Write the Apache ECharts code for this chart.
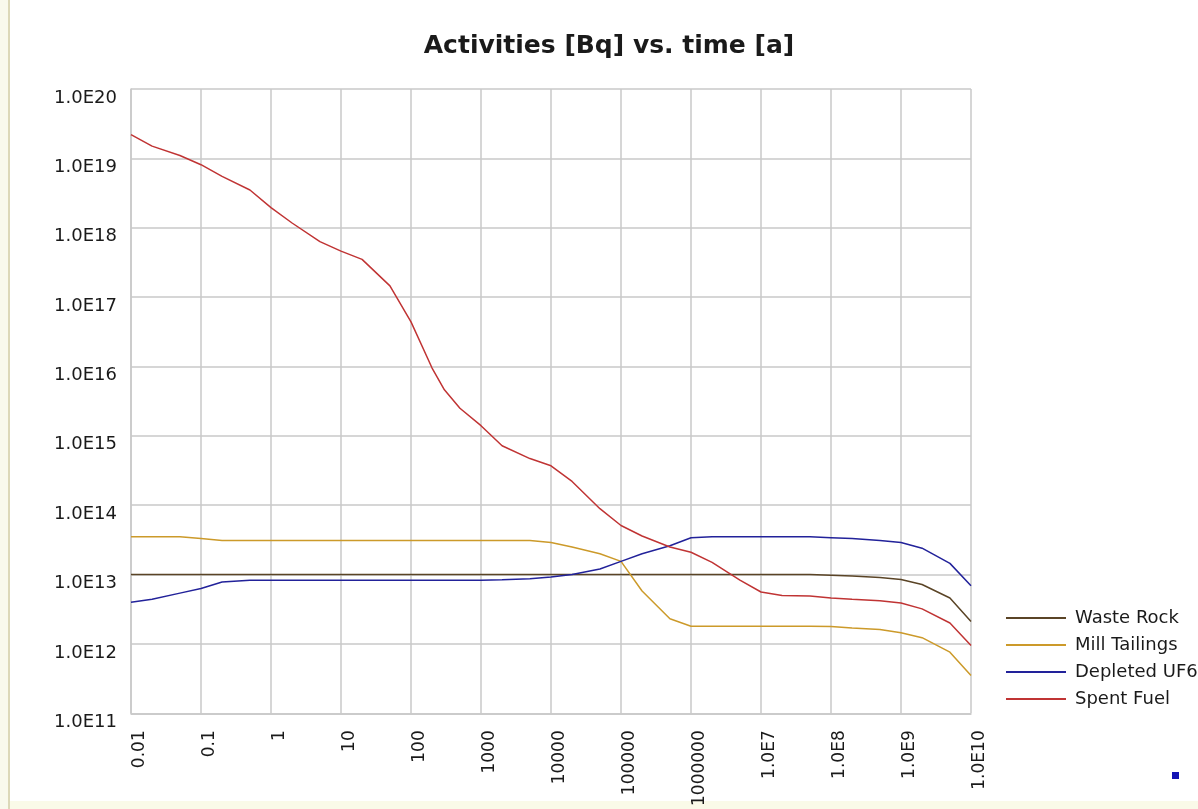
<!DOCTYPE html>
<html>
<head>
<meta charset="utf-8">
<script src="https://cdn.jsdelivr.net/npm/echarts@6/dist/echarts.min.js"></script>
<style>
  html, body { margin: 0; padding: 0; background: #ffffff; }
  #chart { width: 1198px; height: 809px; }
</style>
</head>
<body>
<div id="chart"></div>
<script>
// Time points [a]
const times = [0.01, 0.02, 0.05, 0.1, 0.2, 0.5, 1, 2, 5, 10, 20, 50, 100, 200, 300, 500,
  1e3, 2e3, 5e3, 1e4, 2e4, 5e4, 1e5, 2e5, 5e5, 1e6, 2e6, 5e6, 1e7, 2e7, 5e7,
  1e8, 2e8, 5e8, 1e9, 2e9, 5e9, 1e10];

// Activities [Bq]
const wasteRock = [1e13, 1e13, 1e13, 1e13, 1e13, 1e13, 1e13, 1e13, 1e13, 1e13, 1e13, 1e13, 1e13, 1e13, 1e13, 1e13,
  1e13, 1e13, 1e13, 1e13, 1e13, 1e13, 1e13, 1e13, 1e13, 1e13, 1e13, 1e13, 1e13, 1e13, 1e13,
  9.8e12, 9.5e12, 9.1e12, 8.5e12, 7.2e12, 4.6e12, 2.1e12];

const millTailings = [3.5e13, 3.5e13, 3.5e13, 3.3e13, 3.1e13, 3.1e13, 3.1e13, 3.1e13, 3.1e13, 3.1e13, 3.1e13, 3.1e13, 3.1e13, 3.1e13, 3.1e13, 3.1e13,
  3.1e13, 3.1e13, 3.1e13, 2.9e13, 2.5e13, 2.0e13, 1.55e13, 5.8e12, 2.3e12, 1.8e12, 1.8e12, 1.8e12, 1.8e12, 1.8e12, 1.8e12,
  1.78e12, 1.7e12, 1.62e12, 1.45e12, 1.23e12, 7.6e11, 3.5e11];

const depletedUF6 = [4.0e12, 4.4e12, 5.4e12, 6.3e12, 7.8e12, 8.3e12, 8.3e12, 8.3e12, 8.3e12, 8.3e12, 8.3e12, 8.3e12, 8.3e12, 8.3e12, 8.3e12, 8.3e12,
  8.3e12, 8.4e12, 8.7e12, 9.2e12, 1.0e13, 1.2e13, 1.55e13, 2.0e13, 2.6e13, 3.4e13, 3.5e13, 3.5e13, 3.5e13, 3.5e13, 3.5e13,
  3.4e13, 3.3e13, 3.1e13, 2.9e13, 2.4e13, 1.45e13, 6.9e12];

const spentFuel = [2.2e19, 1.5e19, 1.1e19, 8.1e18, 5.5e18, 3.5e18, 1.95e18, 1.17e18, 6.3e17, 4.6e17, 3.5e17, 1.45e17, 4.4e16, 9.5e15, 4.6e15, 2.5e15,
  1.4e15, 7.2e14, 4.7e14, 3.7e14, 2.2e14, 8.9e13, 5.1e13, 3.6e13, 2.5e13, 2.1e13, 1.5e13, 8.3e12, 5.6e12, 5.0e12, 4.9e12,
  4.6e12, 4.4e12, 4.2e12, 3.9e12, 3.2e12, 2.0e12, 9.5e11];

const seriesNames = ['Waste Rock', 'Mill Tailings', 'Depleted UF6', 'Spent Fuel'];
const seriesValues = [wasteRock, millTailings, depletedUF6, spentFuel];
const seriesColors = ['#5a4426', '#cc9a2a', '#22229a', '#c03434'];

// Decade tick labels
const xTickLabels = ['0.01', '0.1', '1', '10', '100', '1000', '10000', '100000', '1000000',
  '1.0E7', '1.0E8', '1.0E9', '1.0E10'];
const yTickLabels = ['1.0E11', '1.0E12', '1.0E13', '1.0E14', '1.0E15', '1.0E16', '1.0E17',
  '1.0E18', '1.0E19', '1.0E20'];

const xMinExp = -2, xMaxExp = 10;
const yMinExp = 11, yMaxExp = 20;

const chart = echarts.init(document.getElementById('chart'), null, { renderer: 'canvas' });

// Both axes are logarithmic: positions are taken in decades (log10)
const series = seriesNames.map((name, i) => ({
  name: name,
  type: 'line',
  symbol: 'none',
  showSymbol: false,
  smooth: false,
  color: seriesColors[i],
  lineStyle: { width: 1.5, color: seriesColors[i] },
  data: times.map((t, j) => [Math.log10(t), Math.log10(seriesValues[i][j])])
}));

const gridColor = '#c8c8c8';

const option = {
  animation: false,
  backgroundColor: '#ffffff',
  title: {
    text: 'Activities [Bq] vs. time [a]',
    left: 609,
    top: 34,
    textAlign: 'center',
    padding: 0,
    textStyle: { fontFamily: 'DejaVu Sans', fontWeight: 'bold', fontSize: 25, color: '#1a1a1a' }
  },
  grid: { left: 131, top: 89, width: 840, height: 625, containLabel: false },
  xAxis: {
    type: 'value',
    min: xMinExp,
    max: xMaxExp,
    interval: 1,
    axisLine: { show: true, onZero: false, lineStyle: { color: gridColor, width: 1.5 } },
    axisTick: { show: false },
    splitLine: { show: true, lineStyle: { color: gridColor, width: 1.5 } },
    axisLabel: {
      rotate: 90,
      margin: 17,
      verticalAlign: 'top',
      fontFamily: 'DejaVu Sans',
      fontSize: 17,
      color: '#1a1a1a',
      formatter: v => xTickLabels[Math.round(v) - xMinExp]
    }
  },
  yAxis: {
    type: 'value',
    min: yMinExp,
    max: yMaxExp,
    interval: 1,
    axisLine: { show: true, onZero: false, lineStyle: { color: gridColor, width: 1.5 } },
    axisTick: { show: false },
    splitLine: { show: true, lineStyle: { color: gridColor, width: 1.5 } },
    axisLabel: {
      margin: 14,
      verticalAlign: 'top',
      fontFamily: 'DejaVu Sans',
      fontSize: 18,
      color: '#1a1a1a',
      formatter: v => yTickLabels[Math.round(v) - yMinExp]
    }
  },
  legend: {
    orient: 'vertical',
    left: 1006,
    top: 609,
    padding: 0,
    icon: 'rect',
    itemWidth: 60,
    itemHeight: 2,
    itemGap: 9,
    data: seriesNames,
    textStyle: { fontFamily: 'DejaVu Sans', fontSize: 18, color: '#1a1a1a', padding: [0, 0, 0, 4] }
  },
  graphic: [
    { type: 'rect', left: 0, top: 0, shape: { width: 8, height: 809 }, style: { fill: '#f9f9ec' }, silent: true },
    { type: 'rect', left: 8, top: 0, shape: { width: 2, height: 809 }, style: { fill: '#dcd8b8' }, silent: true },
    { type: 'rect', left: 10, top: 801, shape: { width: 1188, height: 8 }, style: { fill: '#fafae8' }, silent: true },
    { type: 'rect', left: 1172, top: 772, shape: { width: 7, height: 7 }, style: { fill: '#1414b4' }, silent: true }
  ],
  series: series
};

chart.setOption(option);
</script>
</body>
</html>
